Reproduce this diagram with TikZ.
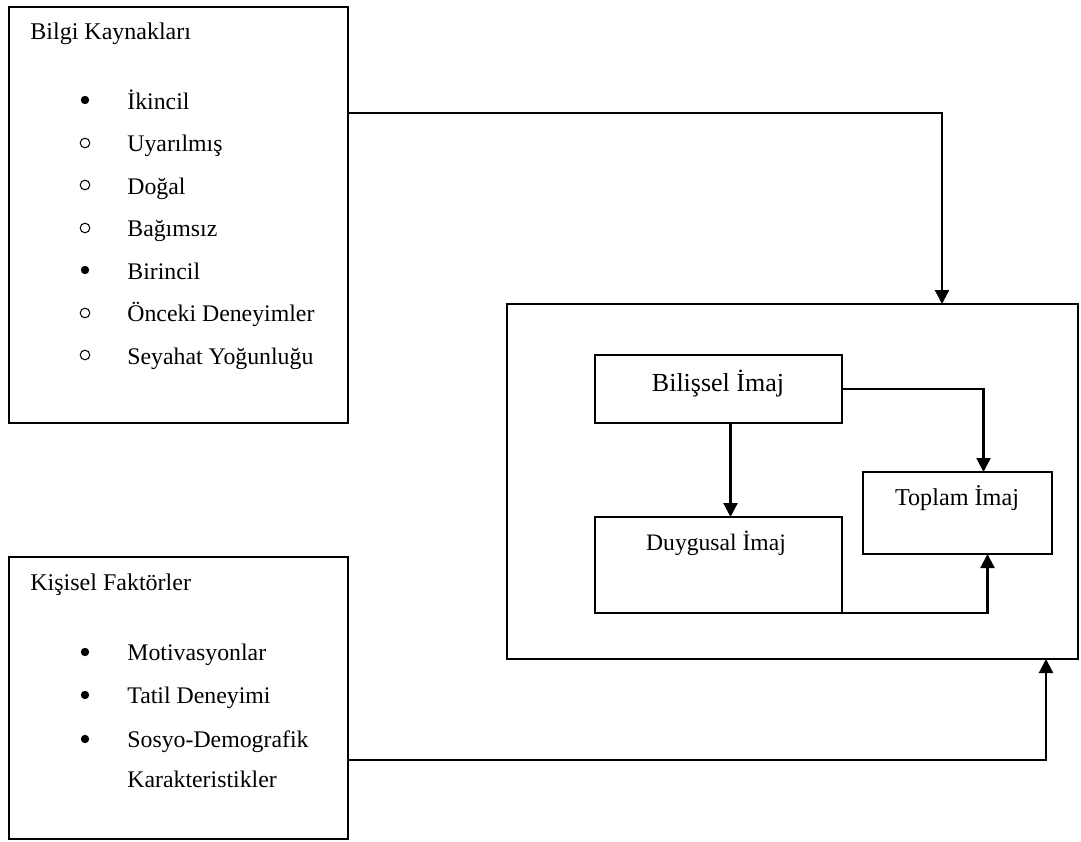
\documentclass[tikz,border=0pt]{standalone}
\usepackage{fontspec}
\setmainfont{Liberation Serif}
\usetikzlibrary{arrows.meta}
\tikzset{
    im frame/.style={draw=black, line width=1pt, inner sep=0pt,
                     outer sep=0pt, anchor=north west},
    im head/.style={font=\fontsize{12}{15}\selectfont, anchor=base west,
                    inner sep=0pt},
    im item/.style={font=\fontsize{11.9}{15}\selectfont, anchor=base west,
                    inner sep=0pt},
    im dot/.style={circle, fill=black, inner sep=0pt, minimum size=4.2pt},
    im ring/.style={circle, draw=black, line width=0.5pt, inner sep=0pt,
                    minimum size=4.8pt},
    % Image boxes
    im box/.style={draw=black, line width=1pt, inner sep=0pt,
                   outer sep=0pt, anchor=north west},
    im name/.style={font=\fontsize{11.8}{14}\selectfont, anchor=base},
    im link/.style={line width=1.1pt, -{Triangle[length=7pt, width=7pt]}},
}

\begin{document}
\begin{tikzpicture}[x=0.5pt, y=-0.5pt]
    \useasboundingbox (0,0) rectangle (1081,841);
    % Sources
    \node[im frame, minimum width=169.5pt, minimum height=208pt]
        (src) at (9,7) {};
    \node[im head] (srct) at (30,39) {Bilgi Kaynakları};
    \node[im dot] (sb1) at (85,100) {};
    \node[im item] (s1) at (127,109) {İkincil};
    \node[im ring] (sb2) at (85,143) {};
    \node[im item] (s2) at (127,151.5) {Uyarılmış};
    \node[im ring] (sb3) at (85,185) {};
    \node[im item] (s3) at (127,194) {Doğal};
    \node[im ring] (sb4) at (85,228) {};
    \node[im item] (s4) at (127,236.5) {Bağımsız};
    \node[im dot] (sb5) at (85,270) {};
    \node[im item] (s5) at (127,279) {Birincil};
    \node[im ring] (sb6) at (85,313) {};
    \node[im item] (s6) at (127,321.5) {Önceki Deneyimler};
    \node[im ring] (sb7) at (85,355) {};
    \node[im item] (s7) at (127,364) {Seyahat Yoğunluğu};
    % Personal factors
    \node[im frame, minimum width=169.5pt, minimum height=141pt]
        (pers) at (9,557) {};
    \node[im head] (perst) at (30,590) {Kişisel Faktörler};
    \node[im dot] (pb1) at (85,652) {};
    \node[im item] (p1) at (127,660) {Motivasyonlar};
    \node[im dot] (pb2) at (85,695) {};
    \node[im item] (p2) at (127,703) {Tatil Deneyimi};
    \node[im dot] (pb3) at (85,739) {};
    \node[im item] (p3) at (127,747) {Sosyo-Demografik};
    \node[im item] (p4) at (127,787) {Karakteristikler};
    % Image
    \node[im box, minimum width=285.5pt, minimum height=177.5pt]
        (big) at (507,304) {};
    \node[im box, minimum width=123.5pt, minimum height=34pt]
        (cog) at (595,355) {};
    \node[im name, font=\fontsize{13}{15}\selectfont] (cogt) at (718,391)
        {Bilişsel İmaj};
    \node[im box, minimum width=123.5pt, minimum height=48pt]
        (aff) at (595,517) {};
    \node[im name] (afft) at (716,550) {Duygusal İmaj};
    \node[im box, minimum width=94.5pt, minimum height=41pt]
        (tot) at (863,472) {};
    \node[im name, font=\fontsize{12.1}{14}\selectfont] (tott) at (957,505)
        {Toplam İmaj};
    % Links
    \coordinate (srcout) at (348,113);
    \coordinate (bigin) at (942,304);
    \coordinate (persout) at (348,760);
    \coordinate (bigout) at (1046,659);
    \draw[im link] (srcout) -| (bigin);
    \draw[im link] (persout) -| (bigout);
    \draw[im link] ([xshift=6pt]cog.south) -- ([xshift=6pt]aff.north);
    \draw[im link] (cog.east) -| ([xshift=13pt]tot.north);
    \draw[im link] (aff.south east) -| ([xshift=15pt]tot.south);
\end{tikzpicture}
\end{document}
